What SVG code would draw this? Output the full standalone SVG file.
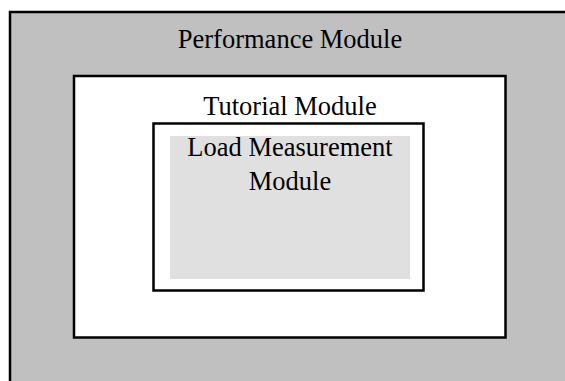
<svg xmlns="http://www.w3.org/2000/svg" width="565" height="381" viewBox="0 0 565 381">
  <style>
    .frame { stroke: #000; stroke-width: 2.5; }
    .label { font-family: "Liberation Serif", "Times New Roman", serif; font-size: 26.5px; fill: #000; text-anchor: middle; }
  </style>
  <rect x="0" y="0" width="565" height="381" fill="#fff"/>

  <!-- Performance Module: outermost container, runs off the right and bottom edges -->
  <g id="performance-module">
    <rect class="frame" x="10" y="12" width="620" height="420" fill="#c0c0c0" stroke-width="2"/>
    <text class="label" x="290" y="48">Performance Module</text>
  </g>

  <!-- Tutorial Module -->
  <g id="tutorial-module">
    <rect class="frame" x="74" y="76" width="431.5" height="261.5" fill="#fff"/>
    <text class="label" x="290" y="115">Tutorial Module</text>
  </g>

  <!-- Load Measurement Module -->
  <g id="load-measurement-module">
    <rect class="frame" x="153.5" y="123.5" width="270" height="167" fill="#fff"/>
    <rect x="170" y="136" width="240" height="143" fill="#e0e0e0"/>
    <text class="label" x="290" y="156">Load Measurement</text>
    <text class="label" x="290" y="190">Module</text>
  </g>

  <g id="connectors"/>
</svg>
